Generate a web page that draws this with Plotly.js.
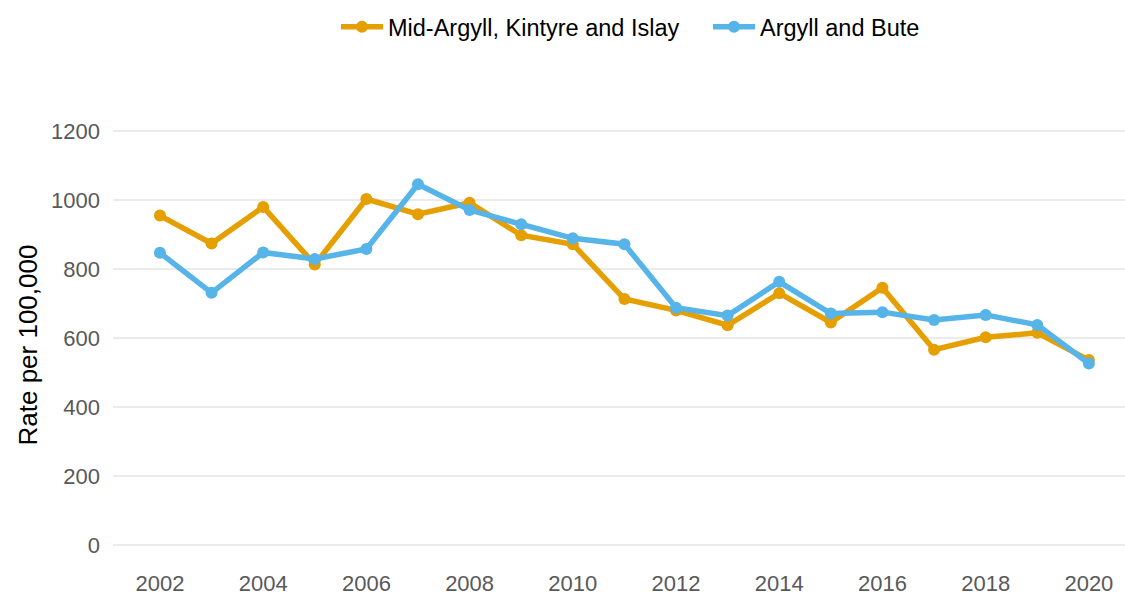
<!DOCTYPE html>
<html>
<head>
<meta charset="utf-8">
<script src="https://cdn.plot.ly/plotly-3.0.1.min.js"></script>
<style>html,body{margin:0;padding:0;background:#fff;}#chart{width:1125px;height:597px;}</style>
</head>
<body>
<div id="chart"></div>
<script>
const years = [2002,2003,2004,2005,2006,2007,2008,2009,2010,2011,2012,2013,2014,2015,2016,2017,2018,2019,2020];
const midArgyll = [955,874,980,813,1003,959,992,898,872,713,680,637,730,645,746,566,602,615,536];
const argyllBute = [847,731,848,829,858,1046,971,930,889,872,688,665,763,671,675,652,667,638,526];
const seriesNames = ["Mid-Argyll, Kintyre and Islay", "Argyll and Bute"];
const yTitle = "Rate per 100,000";
const yTicks = [0,200,400,600,800,1000,1200];
const xTicks = [2002,2004,2006,2008,2010,2012,2014,2016,2018,2020];

const font = "Liberation Sans, Arial, sans-serif";
const traces = [
  {x: years, y: midArgyll, name: seriesNames[0], type: "scatter", mode: "lines+markers",
   line: {color: "#E69F00", width: 5.5}, marker: {color: "#E69F00", size: 12}},
  {x: years, y: argyllBute, name: seriesNames[1], type: "scatter", mode: "lines+markers",
   line: {color: "#56B4E9", width: 5.5}, marker: {color: "#56B4E9", size: 12}}
];
const layout = {
  width: 1125, height: 597,
  margin: {l: 113, r: 0, t: 100, b: 32, autoexpand: false},
  paper_bgcolor: "#fff", plot_bgcolor: "#fff",
  font: {family: font, color: "#000"},
  showlegend: true,
  legend: {orientation: "h", x: (336 - 113) / 1012, xanchor: "left", y: 1.157, yanchor: "middle",
    itemwidth: 42, entrywidth: 315,
    font: {family: font, size: 23.5, color: "#000"}},
  xaxis: {range: [2001.09, 2020.7], tickvals: xTicks, ticktext: xTicks.map(String),
    showgrid: false, zeroline: false, showline: false, ticks: "",
    ticklabelstandoff: 3,
    tickfont: {family: font, size: 22, color: "#595959"}},
  yaxis: {range: [-58, 1290], tickvals: yTicks, ticktext: yTicks.map(String),
    showgrid: true, gridcolor: "#ebebeb", gridwidth: 2, zeroline: false, showline: false, ticks: "",
    ticklabelstandoff: 12,
    tickfont: {family: font, size: 22, color: "#595959"}},
  annotations: [{text: yTitle, textangle: -90, xref: "paper", yref: "paper",
    x: -(113 - 27) / 1012, y: (565 - 345.5) / 465, xanchor: "center", yanchor: "middle",
    showarrow: false, font: {family: font, size: 26, color: "#000"}}]
};
Plotly.newPlot("chart", traces, layout, {displayModeBar: false});
</script>
</body>
</html>
